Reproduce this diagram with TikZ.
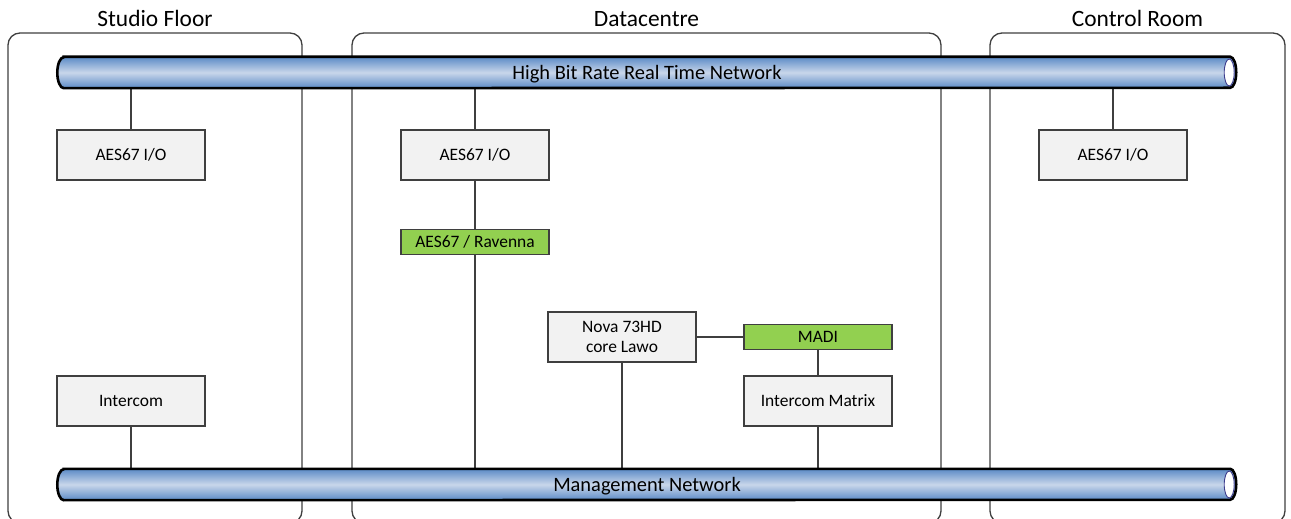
\documentclass[tikz,border=0pt]{standalone}
\usepackage{fontspec}
\setmainfont{Carlito}
\usetikzlibrary{positioning}
\definecolor{pipedark}{HTML}{5A8AC6}
\definecolor{pipelight}{HTML}{C9D6EA}
\definecolor{boxfill}{HTML}{F2F2F2}
\definecolor{greenfill}{HTML}{92D050}
\definecolor{edgegray}{HTML}{3F3F3F}
\definecolor{rimblue}{HTML}{3C3C8C}
\begin{document}
\begin{tikzpicture}[x=1bp,y=-1bp,
  zone/.style={draw=edgegray,line width=1.3bp,rounded corners=12bp},
  title/.style={font=\fontsize{23.5}{27}\selectfont,anchor=base},
  devbox/.style={draw=edgegray,line width=1.3bp,fill=boxfill,minimum width=148bp,minimum height=50bp,inner sep=0pt,align=center,font=\fontsize{17.5}{20.5}\selectfont},
  greenbox/.style={draw=edgegray,line width=1.3bp,fill=greenfill,minimum width=148bp,minimum height=25.5bp,inner sep=0pt,font=\fontsize{17.5}{20.5}\selectfont},
  link/.style={draw=edgegray,line width=1.3bp},
  pipearea/.style={minimum width=1180bp,minimum height=31bp,inner sep=0pt},
  pipelabel/.style={font=\fontsize{20.5}{24}\selectfont,yshift=-1.5bp}
]
\useasboundingbox (0,0) rectangle (1291,519);
\begin{scope}
\clip (0,0) rectangle (1291,519);
% zones
\draw[zone] (8,523) -- (8,33) -- (302,33) -- (302,523) -- cycle;
\draw[zone] (352,523) -- (352,33) -- (941,33) -- (941,523) -- cycle;
\draw[zone] (990,523) -- (990,33) -- (1285,33) -- (1285,523) -- cycle;
\end{scope}
\node[title] (tStudio) at (155,27) {Studio Floor};
\node[title] (tData) at (646.5,27) {Datacentre};
\node[title] (tCtrl) at (1137.5,27) {Control Room};

% pipe areas (named)
\node[pipearea] (hbr) at (647,72.5) {};
\node[pipearea] (mgmt) at (647,484.5) {};

% devices
\node[devbox] (aesL) at (131,155) {AES67 I/O};
\node[devbox] (aesM) at (475,155) {AES67 I/O};
\node[devbox] (aesR) at (1113,155) {AES67 I/O};
\node[greenbox] (rav) at (475,242) {AES67 / Ravenna};
\node[devbox] (nova) at (622,337) {Nova 73HD\\core Lawo};
\node[greenbox] (madi) at (818,337) {MADI};
\node[devbox] (matrix) at (818,401) {Intercom Matrix};
\node[devbox] (icom) at (131,401) {Intercom};

% connectors
\draw[link] (aesL.north) -- (aesL.north |- hbr.south);
\draw[link] (aesM.north) -- (aesM.north |- hbr.south);
\draw[link] (aesR.north) -- (aesR.north |- hbr.south);
\draw[link] (aesM.south) -- (rav.north);
\draw[link] (rav.south) -- (rav.south |- mgmt.north);
\draw[link] (nova.south) -- (nova.south |- mgmt.north);
\draw[link] (nova.east) -- (madi.west);
\draw[link] (madi.south) -- (matrix.north);
\draw[link] (matrix.south) -- (matrix.south |- mgmt.north);
\draw[link] (icom.south) -- (icom.south |- mgmt.north);

% pipes
\foreach \p in {hbr,mgmt}{
  \path[top color=pipedark,bottom color=pipedark,middle color=pipelight,draw=black,line width=2.6bp]
    ([xshift=7bp]\p.north west) -- ([xshift=-7bp]\p.north east)
    arc[start angle=90,end angle=-90,x radius=6bp,y radius=15.5bp]
    -- ([xshift=7bp]\p.south west)
    arc[start angle=270,end angle=90,x radius=6.5bp,y radius=15.5bp] -- cycle;
  \draw[fill=white,draw=rimblue,line width=0.9bp] ([xshift=-8bp]\p.east) ellipse[x radius=5bp,y radius=13.5bp];
}
\node[pipelabel] (hbrLabel) at (hbr.center) {High Bit Rate Real Time Network};
\node[pipelabel] (mgmtLabel) at (mgmt.center) {Management Network};
\end{tikzpicture}
\end{document}
